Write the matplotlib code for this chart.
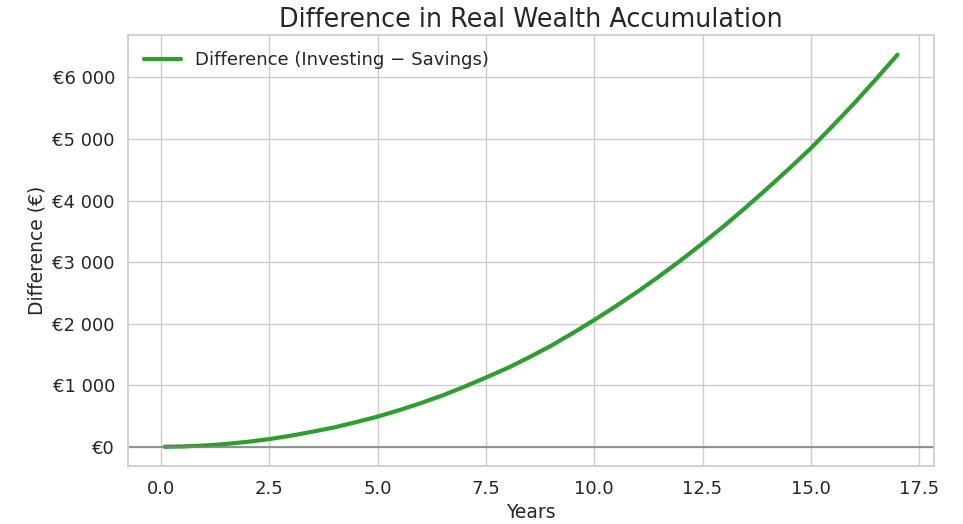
import matplotlib
matplotlib.use("Agg")
import matplotlib.pyplot as plt
import seaborn as sns
from matplotlib.ticker import FuncFormatter, MultipleLocator

years = [1/12, 0.5, 1, 1.5, 2, 2.5, 3, 3.5, 4, 4.5, 5, 5.5, 6, 6.5, 7, 7.5, 8, 8.5,
         9, 9.5, 10, 10.5, 11, 11.5, 12, 12.5, 13, 13.5, 14, 14.5, 15, 15.5, 16, 16.5, 17]
difference = [0, 5, 20, 45, 80, 125, 180, 245, 315, 400, 490, 595, 710, 835, 975, 1125,
              1280, 1455, 1640, 1845, 2060, 2285, 2520, 2770, 3030, 3305, 3590, 3890,
              4200, 4520, 4850, 5210, 5580, 5970, 6370]

sns.set_theme(style="whitegrid")
plt.rcParams['font.family'] = ['DejaVu Sans']

fig, ax = plt.subplots(figsize=(9.63, 5.24), dpi=100)
ax.plot(years, difference, color="#2ca02c", linewidth=3, label="Difference (Investing \u2212 Savings)")
ax.axhline(0, color="gray", linewidth=1.5, alpha=0.8)

ax.set_title("Difference in Real Wealth Accumulation", fontsize=18.4)
ax.set_xlabel("Years", fontsize=13.5)
ax.set_ylabel("Difference (\u20ac)", fontsize=13.5)
ax.tick_params(labelsize=13)
ax.xaxis.set_major_locator(MultipleLocator(2.5))
ax.yaxis.set_major_locator(MultipleLocator(1000))
ax.yaxis.set_major_formatter(FuncFormatter(lambda v, p: "\u20ac" + f"{v:,.0f}".replace(",", " ")))
ax.legend(loc="upper left", fontsize=13.1, frameon=False)

fig.subplots_adjust(left=0.133, right=0.97, top=0.933, bottom=0.11)
fig.savefig("out.png", dpi=100)
